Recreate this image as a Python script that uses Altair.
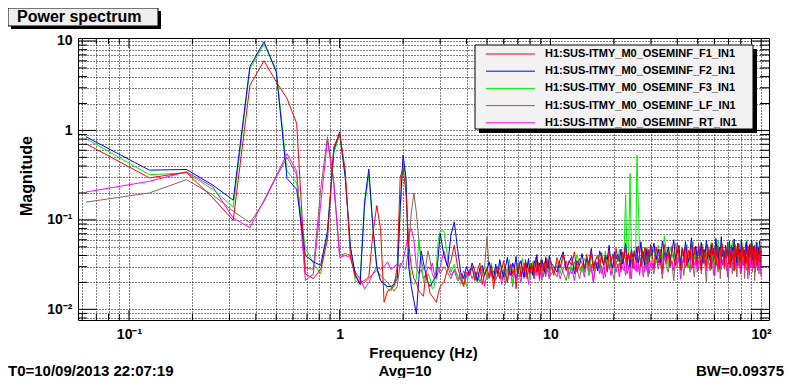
import altair as alt
import pandas as pd

# ---------------- data ----------------
# DTT spectrum: bin spacing 0.0625 Hz (BW = 1.5 * spacing for Hanning = 0.09375)
BIN_HZ = 0.0625
BINS = (list(range(1, 49)) + list(range(50, 161, 2))
        + list(range(166, 479, 6)) + list(range(484, 1601, 12)))
FREQ = [b * BIN_HZ for b in BINS]

SERIES = ["H1:SUS-ITMY_M0_OSEMINF_F1_IN1", "H1:SUS-ITMY_M0_OSEMINF_F2_IN1",
          "H1:SUS-ITMY_M0_OSEMINF_F3_IN1", "H1:SUS-ITMY_M0_OSEMINF_LF_IN1",
          "H1:SUS-ITMY_M0_OSEMINF_RT_IN1"]
COLORS = ["#ff0000", "#0000ff", "#00ee00", "#8c6450", "#ff00ff"]

# 0.0625 .. 3.0 Hz (every bin), magnitude
F1_LOW = [0.71, 0.295, 0.34, 0.176, 0.099, 3.2, 6.0, 3.5,
          2.28, 1.2, 0.025, 0.022, 0.028, 0.06, 0.65, 0.93,
          0.36, 0.038, 0.023, 0.02, 0.021, 0.023, 0.07, 0.145,
          0.08, 0.012, 0.016, 0.017, 0.018, 0.03, 0.3, 0.38,
          0.2, 0.055, 0.03, 0.022, 0.02, 0.016, 0.015, 0.014,
          0.026, 0.02, 0.015, 0.014, 0.013, 0.012, 0.015, 0.018]
F2_LOW = [0.85, 0.36, 0.366, 0.245, 0.166, 5.2, 9.8, 4.5,
          0.29, 0.22, 0.04, 0.034, 0.031, 0.075, 0.6, 0.96,
          0.3, 0.05, 0.024, 0.019, 0.16, 0.37, 0.085, 0.03,
          0.021, 0.019, 0.018, 0.018, 0.019, 0.022, 0.14, 0.53,
          0.3, 0.03, 0.018, 0.0125, 0.0089, 0.022, 0.045, 0.033,
          0.025, 0.02, 0.018, 0.02, 0.022, 0.023, 0.04, 0.07]
F3_LOW = [0.81, 0.32, 0.335, 0.22, 0.139, 4.9, 9.2, 4.8,
          0.35, 0.26, 0.048, 0.033, 0.025, 0.07, 0.55, 0.9,
          0.3, 0.048, 0.02, 0.022, 0.14, 0.32, 0.08, 0.028,
          0.021, 0.02, 0.017, 0.016, 0.02, 0.024, 0.12, 0.45,
          0.28, 0.04, 0.02, 0.019, 0.022, 0.06, 0.035, 0.02,
          0.02, 0.025, 0.022, 0.017, 0.018, 0.03, 0.06, 0.075]
LF_LOW = [0.158, 0.2, 0.282, 0.19, 0.125, 0.093, 0.16, 0.3,
          0.5, 0.32, 0.029, 0.028, 0.22, 0.85, 0.28, 0.04,
          0.042, 0.04, 0.025, 0.019, 0.02, 0.022, 0.025, 0.027,
          0.024, 0.022, 0.02, 0.018, 0.016, 0.018, 0.033, 0.03,
          0.028, 0.05, 0.12, 0.2, 0.12, 0.059, 0.035, 0.028,
          0.03, 0.045, 0.035, 0.025, 0.022, 0.028, 0.03, 0.025]
RT_LOW = [0.205, 0.27, 0.344, 0.234, 0.105, 0.082, 0.166, 0.31,
          0.55, 0.35, 0.021, 0.025, 0.15, 0.78, 0.25, 0.038,
          0.04, 0.038, 0.026, 0.022, 0.017, 0.02, 0.025, 0.03,
          0.028, 0.03, 0.034, 0.028, 0.03, 0.032, 0.03, 0.035,
          0.05, 0.07, 0.08, 0.06, 0.03, 0.025, 0.028, 0.022,
          0.025, 0.03, 0.028, 0.033, 0.025, 0.022, 0.027, 0.03]

# 3.125 .. 10 Hz, magnitude x 1000
F1_MID = [20, 28, 35, 52, 30, 22, 18, 26, 24, 30,
          21, 27, 33, 19, 25, 29, 23, 31, 17, 26,
          30, 22, 28, 35, 24, 20, 27, 32, 25, 29,
          17, 26, 34, 23, 30, 27, 36, 22, 29, 25,
          33, 28, 24, 38, 26, 31, 22, 35, 29, 27,
          34, 25, 37, 30, 28, 36]
F2_MID = [40, 30, 68, 95, 48, 26, 22, 30, 24, 33,
          27, 21, 29, 31, 24, 28, 34, 26, 22, 32,
          25, 36, 28, 23, 30, 38, 26, 24, 33, 29,
          39, 25, 31, 35, 27, 23, 34, 29, 37, 26,
          32, 24, 35, 30, 41, 27, 33, 28, 36, 30,
          26, 38, 32, 29, 40, 34]
F3_MID = [75, 38, 26, 32, 22, 19, 24, 18, 27, 30,
          23, 20, 28, 25, 31, 22, 26, 33, 21, 29,
          24, 34, 27, 22, 30, 25, 36, 28, 19, 31,
          26, 33, 23, 29, 37, 24, 30, 27, 35, 22,
          28, 34, 25, 31, 38, 27, 24, 36, 29, 33,
          25, 39, 30, 27, 35, 31]
LF_MID = [30, 26, 22, 28, 24, 21, 27, 23, 25, 29,
          22, 26, 20, 24, 30, 65, 28, 23, 27, 21,
          25, 29, 22, 26, 19, 28, 24, 30, 23, 27,
          21, 26, 31, 24, 28, 22, 25, 33, 27, 23,
          29, 25, 22, 30, 26, 34, 24, 28, 21, 31,
          27, 23, 32, 26, 29, 24]
RT_MID = [45, 30, 24, 27, 21, 25, 19, 23, 28, 22,
          26, 20, 24, 29, 18, 25, 22, 27, 21, 30,
          23, 26, 19, 28, 24, 21, 31, 25, 18, 27,
          22, 29, 24, 20, 27, 33, 23, 26, 19, 28,
          25, 30, 22, 27, 24, 32, 21, 28, 26, 23,
          29, 24, 31, 26, 22, 30]

# 10.375 .. 29.875 Hz, magnitude x 1000
F1_HI1 = [24, 38, 29, 42, 27, 35, 31, 44, 26, 37,
          33, 28, 41, 30, 45, 27, 36, 40, 29, 43,
          32, 38, 26, 46, 34, 41, 30, 48, 35, 39,
          28, 44, 37, 50, 31, 42, 36, 47, 29, 45,
          38, 33, 51, 40, 30, 46, 35, 49, 41, 32,
          47, 37, 52]
F2_HI1 = [30, 26, 36, 44, 28, 33, 39, 25, 35, 31,
          42, 29, 37, 33, 48, 30, 35, 27, 45, 38,
          31, 40, 36, 52, 33, 29, 44, 37, 41, 34,
          47, 32, 39, 55, 35, 42, 30, 46, 38, 43,
          36, 50, 33, 41, 57, 37, 44, 31, 48, 39,
          45, 34, 53]
F3_HI1 = [27, 34, 25, 39, 30, 22, 36, 28, 41, 31,
          26, 37, 33, 24, 43, 29, 35, 40, 27, 38,
          32, 45, 28, 36, 31, 42, 26, 39, 34, 47,
          30, 37, 44, 190, 35, 41, 330, 38, 33, 46,
          36, 530, 166, 40, 31, 48, 37, 43, 35, 50,
          34, 45, 39]
LF_HI1 = [27, 23, 32, 26, 21, 30, 25, 34, 28, 22,
          31, 26, 35, 24, 29, 20, 33, 27, 36, 25,
          30, 23, 38, 28, 32, 25, 21, 35, 29, 33,
          26, 40, 30, 24, 36, 28, 32, 22, 37, 31,
          27, 39, 33, 25, 35, 30, 42, 26, 34, 29,
          23, 37, 31]
RT_HI1 = [26, 31, 22, 28, 35, 24, 29, 21, 33, 27,
          30, 23, 36, 26, 32, 20, 29, 34, 25, 31,
          22, 37, 28, 33, 24, 30, 39, 26, 32, 23,
          35, 29, 27, 38, 25, 31, 22, 36, 30, 28,
          40, 26, 33, 24, 37, 29, 23, 34, 31, 27,
          38, 25, 32]

# 30.25 .. 100 Hz, magnitude x 1000
F1_HI2 = [44, 29, 50, 33, 47, 28, 53, 35, 45, 30,
          51, 38, 31, 55, 42, 28, 48, 33, 52, 30,
          46, 36, 56, 29, 49, 40, 32, 54, 38, 27,
          50, 34, 45, 30, 53, 40, 47, 28, 55, 35,
          44, 31, 51, 38, 28, 48, 33, 54, 41, 30,
          49, 37, 56, 32, 46, 29, 52, 36, 45, 27,
          53, 39, 48, 31, 55, 34, 44, 28, 50, 37,
          47, 30, 54, 40, 33, 51, 28, 46, 38, 55,
          32, 49, 42, 29, 52, 36, 47, 31, 50, 39,
          34, 53, 45, 29]
F2_HI2 = [40, 55, 36, 47, 33, 58, 42, 38, 50, 35,
          45, 60, 37, 43, 52, 31, 48, 39, 57, 41,
          34, 46, 63, 38, 44, 51, 36, 49, 40, 56,
          33, 47, 42, 59, 37, 45, 35, 53, 41, 48,
          38, 62, 44, 36, 50, 43, 65, 39, 46, 34,
          52, 40, 47, 37, 58, 42, 35, 49, 45, 61,
          38, 44, 33, 55, 41, 47, 36, 60, 43, 50,
          39, 46, 34, 57, 42, 48, 37, 53, 44, 40,
          59, 36, 45, 51, 38, 47, 42, 56, 35, 49,
          41, 58, 33, 46]
F3_HI2 = [38, 47, 33, 52, 41, 36, 66, 44, 30, 49,
          42, 35, 55, 39, 46, 32, 50, 43, 37, 53,
          29, 45, 40, 57, 36, 48, 34, 51, 41, 38,
          54, 35, 46, 42, 31, 49, 39, 56, 37, 44,
          33, 50, 43, 59, 38, 47, 35, 52, 40, 45,
          30, 48, 41, 55, 36, 44, 39, 58, 34, 47,
          42, 51, 37, 45, 32, 53, 40, 46, 56, 38,
          44, 35, 49, 41, 60, 36, 47, 33, 52, 43,
          39, 54, 45, 31, 48, 42, 57, 37, 46, 40,
          51, 34, 44, 48]
LF_HI2 = [31, 25, 39, 28, 35, 22, 42, 30, 26, 37,
          33, 21, 38, 29, 44, 27, 34, 24, 40, 31,
          36, 26, 43, 30, 23, 39, 33, 28, 45, 25,
          35, 41, 29, 20, 37, 32, 27, 46, 34, 24,
          40, 30, 36, 26, 43, 22, 38, 31, 35, 28,
          44, 27, 33, 21, 39, 30, 36, 25, 42, 32,
          28, 37, 23, 41, 34, 29, 45, 26, 38, 31,
          35, 22, 40, 30, 27, 43, 33, 24, 39, 29,
          36, 26, 44, 32, 21, 38, 30, 41, 27, 34,
          25, 39, 31, 23]
RT_HI2 = [34, 28, 38, 31, 36, 25, 39, 32, 41, 30,
          35, 27, 40, 33, 37, 22, 34, 39, 29, 36,
          32, 42, 28, 37, 31, 38, 26, 35, 33, 30,
          40, 32, 36, 27, 38, 34, 29, 43, 33, 35,
          24, 37, 33, 30, 39, 35, 28, 36, 32, 41,
          31, 36, 23, 38, 34, 29, 37, 32, 35, 27,
          38, 33, 30, 42, 31, 36, 25, 39, 34, 31,
          37, 28, 40, 32, 35, 22, 38, 33, 30, 37,
          35, 29, 41, 31, 36, 26, 38, 34, 30, 39,
          28, 36, 32, 24]

X_MAJOR = [0.1, 1, 10, 100]
X_MINOR = [0.06, 0.07, 0.08, 0.09, 0.2, 0.3, 0.4, 0.5, 0.6, 0.7, 0.8, 0.9,
           2, 3, 4, 5, 6, 7, 8, 9, 20, 30, 40, 50, 60, 70, 80, 90]
Y_MAJOR = [0.01, 0.1, 1, 10]
Y_MINOR = [0.008, 0.009, 0.02, 0.03, 0.04, 0.05, 0.06, 0.07, 0.08, 0.09,
           0.2, 0.3, 0.4, 0.5, 0.6, 0.7, 0.8, 0.9, 2, 3, 4, 5, 6, 7, 8, 9]

# ---------------- assemble ----------------
LOWS = [F1_LOW, F2_LOW, F3_LOW, LF_LOW, RT_LOW]
MIDS = [F1_MID, F2_MID, F3_MID, LF_MID, RT_MID]
HI1S = [F1_HI1, F2_HI1, F3_HI1, LF_HI1, RT_HI1]
HI2S = [F1_HI2, F2_HI2, F3_HI2, LF_HI2, RT_HI2]
rows = []
for name, lo, mi, h1, h2 in zip(SERIES, LOWS, MIDS, HI1S, HI2S):
    assert len(lo) == 48 and len(mi) == 56 and len(h1) == 53 and len(h2) == 94, name
    mags = lo + [v / 1000 for v in mi + h1 + h2]
    for f, m in zip(FREQ, mags):
        rows.append({"series": name, "f": f, "m": m})
df = pd.DataFrame(rows)

W, H = 691, 282
FONT = "Liberation Sans"
xs = alt.Scale(type="log", domain=[0.0573, 109], nice=False)
ys = alt.Scale(type="log", domain=[0.0076, 10.8], nice=False)

common_axis = dict(ticks=False, domain=False, grid=True, gridColor="black",
                   gridDash=[1, 2], gridWidth=1, gridOpacity=1,
                   labelFont=FONT, labelFontSize=14, labelFontWeight="bold",
                   labelColor="black", labelOverlap=False, labelFlush=False,
                   labelBound=False, title=None)
X_AXIS = alt.Axis(values=sorted(X_MAJOR + X_MINOR), labelPadding=7,
                  labelExpr="datum.value == 0.1 ? '10\u207b\u00b9' : datum.value == 1 ? '1' : "
                            "datum.value == 10 ? '10' : datum.value == 100 ? '10\u00b2' : ''",
                  **common_axis)
Y_AXIS = alt.Axis(values=sorted(Y_MAJOR + Y_MINOR), labelPadding=6,
                  labelExpr="datum.value == 0.01 ? '10\u207b\u00b2' : datum.value == 0.1 ? '10\u207b\u00b9' : "
                            "datum.value == 1 ? '1' : datum.value == 10 ? '10' : ''",
                  **common_axis)

ONE = pd.DataFrame({"k": [0]})
layers = []

# spectra: drawn so that red ends on top
draw_order = [3, 4, 2, 1, 0]
for idx in draw_order:
    sub = df[df["series"] == SERIES[idx]]
    layers.append(
        alt.Chart(sub).mark_line(color=COLORS[idx], strokeWidth=1, clip=True).encode(
            x=alt.X("f:Q", scale=xs, axis=X_AXIS),
            y=alt.Y("m:Q", scale=ys, axis=Y_AXIS),
        )
    )


def xticks(vals, length):
    d = pd.DataFrame({"f": vals})
    out = []
    for y0, y1 in ((H, H - length), (0, length)):
        out.append(alt.Chart(d).mark_rule(color="black", strokeWidth=1).encode(
            x=alt.X("f:Q", scale=xs, axis=X_AXIS), y=alt.value(y0), y2=alt.value(y1)))
    return out


def yticks(vals, length):
    d = pd.DataFrame({"m": vals})
    out = []
    for x0, x1 in ((0, length), (W, W - length)):
        out.append(alt.Chart(d).mark_rule(color="black", strokeWidth=1).encode(
            y=alt.Y("m:Q", scale=ys, axis=Y_AXIS), x=alt.value(x0), x2=alt.value(x1)))
    return out


layers += xticks(X_MAJOR, 10) + xticks(X_MINOR, 6)
layers += yticks(Y_MAJOR, 18) + yticks(Y_MINOR, 9)


def rect(x0, y0, x1, y1, fill, stroke=None):
    kw = {"fill": fill}
    if stroke:
        kw.update(stroke=stroke, strokeWidth=1)
    return alt.Chart(ONE).mark_rect(**kw).encode(
        x=alt.value(x0), x2=alt.value(x1), y=alt.value(y0), y2=alt.value(y1))


def text(s, x, y, size, align="left", baseline="middle", angle=0):
    return alt.Chart(ONE).mark_text(
        text=s, font=FONT, fontSize=size, fontWeight="bold", color="black",
        align=align, baseline=baseline, angle=angle).encode(
        x=alt.value(x), y=alt.value(y))


# legend box with shadow
layers.append(rect(401, 11, 679, 95, "black"))
layers.append(rect(397, 7, 675, 91, "#f2f2f2", "black"))
ROW_Y = [16, 33.2, 50.4, 67.6, 84.8]
for i, name in enumerate(SERIES):
    layers.append(alt.Chart(ONE).mark_rule(color=COLORS[i], strokeWidth=1).encode(
        x=alt.value(408), x2=alt.value(457), y=alt.value(ROW_Y[i])))
    layers.append(text(name, 467, ROW_Y[i], 11))

# title box with shadow
layers.append(rect(-67, -27, 83, -9, "black"))
layers.append(rect(-70, -30, 80, -12, "#efefef", "black"))
layers.append(text("Power spectrum", -61, -16, 16, baseline="alphabetic"))

# axis titles
layers.append(text("Frequency (Hz)", 345.5, 315, 15, align="center"))
layers.append(text("Magnitude", -51, 138, 16, align="center", angle=270))

# footer
layers.append(text("T0=10/09/2013 22:07:19", -70, 333, 15))
layers.append(text("Avg=10", 327, 333, 15, align="center"))
layers.append(text("BW=0.09375", 706, 333, 15, align="right"))

chart = alt.layer(*layers).properties(
    width=W, height=H,
    padding={"left": 70, "top": 30, "right": 17, "bottom": 58},
    autosize=alt.AutoSizeParams(type="none"),
    background="white",
).configure_view(stroke="black", strokeWidth=1)

chart.save("out.html", embed_options={"renderer": "svg", "actions": False})
